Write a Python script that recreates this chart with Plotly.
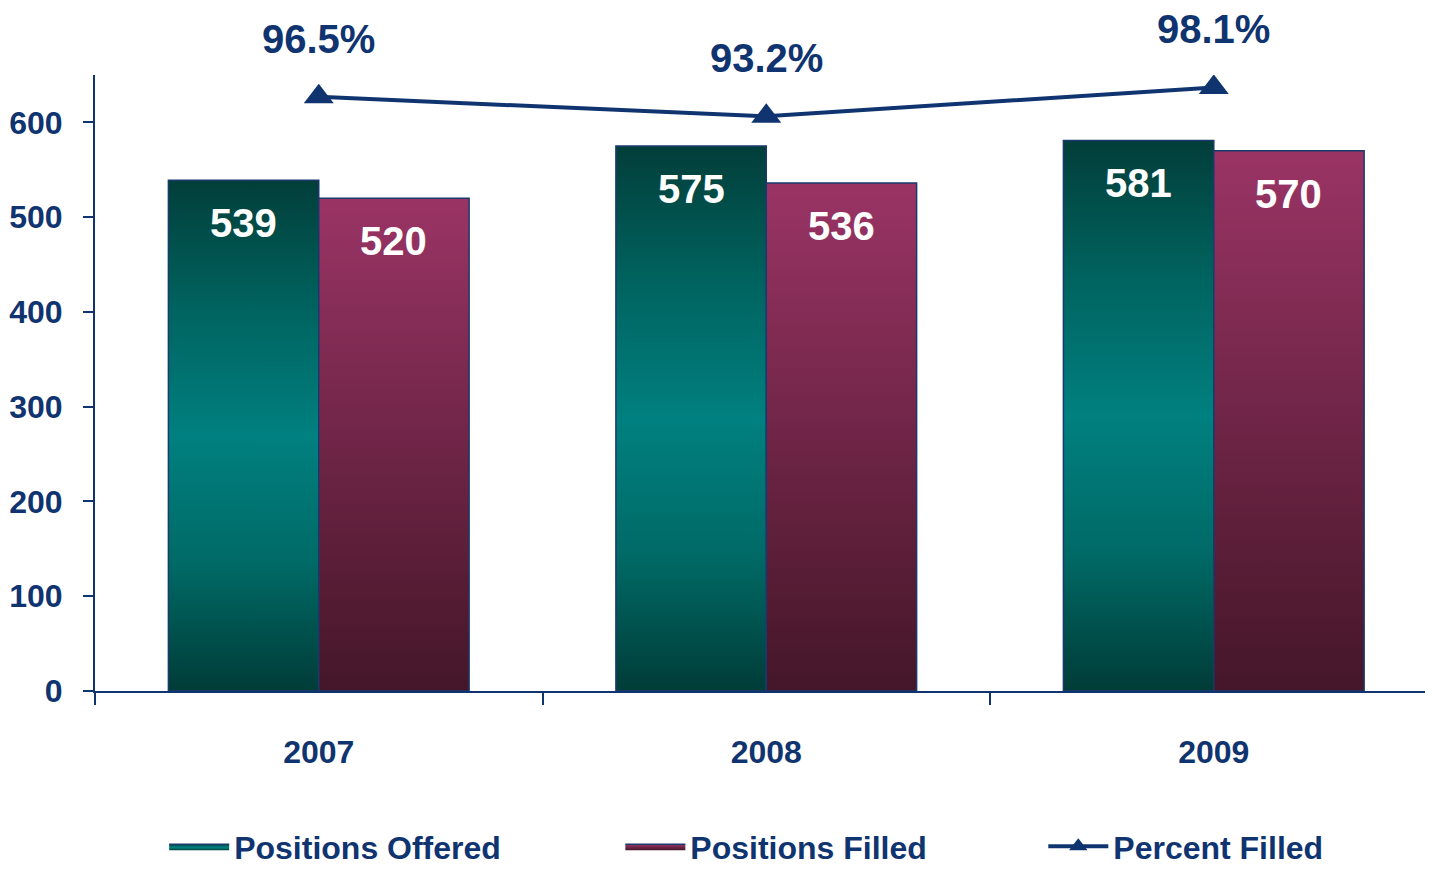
import plotly.graph_objects as go

years = ["2007", "2008", "2009"]
offered = [539, 575, 581]
filled = [520, 536, 570]
pct_filled = [96.5, 93.2, 98.1]

NAVY = "#0f3470"
FONT = "Liberation Sans, Arial, sans-serif"
BAR_W = 0.336

teal_scale = [[0, "#003c38"], [0.25, "#006a66"], [0.5, "#008080"],
              [0.75, "#00635f"], [1, "#023e3a"]]
maroon_scale = [[0, "#441628"], [1, "#9a3465"]]


def bold(size, color=NAVY):
    return dict(family=FONT, size=size, color=color, weight="bold")


fig = go.Figure()


def add_bars(values, offset, scale, name, legend):
    for i, v in enumerate(values):
        x0 = i + offset
        x1 = x0 + BAR_W
        fig.add_trace(go.Scatter(
            x=[x0, x1, x1, x0, x0], y=[0, 0, v, v, 0],
            mode="lines", fill="toself",
            line=dict(color="#1a3a6e", width=1.5),
            fillgradient=dict(type="vertical", colorscale=scale),
            name=name, legendgroup=name, showlegend=(i == 0), legend=legend,
            hoverinfo="skip",
        ))
        fig.add_annotation(x=x0 + BAR_W / 2, y=v, yshift=-43, text=str(v),
                           showarrow=False, font=bold(40, "white"))


add_bars(offered, -BAR_W, teal_scale, "Positions Offered", "legend")
add_bars(filled, 0, maroon_scale, "Positions Filled", "legend2")

fig.add_trace(go.Scatter(
    x=list(range(len(years))), y=pct_filled, yaxis="y2",
    mode="lines+markers", name="Percent Filled", legend="legend3",
    line=dict(color=NAVY, width=4),
    marker=dict(symbol="triangle-up", size=26, color=NAVY),
))
for i, p in enumerate(pct_filled):
    fig.add_annotation(x=i, y=p, yref="y2", yshift=58, text=f"{p}%",
                       showarrow=False, font=bold(40))

leg = dict(orientation="h", xanchor="left", y=-0.297, yanchor="bottom",
           font=bold(32), itemwidth=60, bgcolor="rgba(0,0,0,0)")

fig.update_layout(
    width=1417, height=867,
    margin=dict(l=87, r=0, t=67, b=184),
    plot_bgcolor="white", paper_bgcolor="white",
    font=dict(family=FONT, color=NAVY),
    xaxis=dict(
        range=[-0.5, 2.472], tickvals=list(range(len(years))), ticktext=years,
        ticks="", showline=True, linecolor=NAVY, linewidth=2,
        showgrid=False, zeroline=False, automargin=False,
        tickfont=bold(32),
        ticklabelstandoff=32,
        minor=dict(tick0=0.5, dtick=1, ticks="outside", ticklen=12,
                   tickcolor=NAVY, tickwidth=2, showgrid=False),
    ),
    yaxis=dict(
        range=[0, 650], tickvals=[0, 100, 200, 300, 400, 500, 600],
        ticks="outside", ticklen=10, tickcolor=NAVY, tickwidth=2,
        showline=True, linecolor=NAVY, linewidth=2,
        showgrid=False, zeroline=False, automargin=False,
        tickfont=bold(32),
        ticklabelstandoff=14,
    ),
    yaxis2=dict(range=[-4.2, 100.2], overlaying="y", visible=False),
    legend=dict(leg, x=0.052),
    legend2=dict(leg, x=0.395),
    legend3=dict(leg, x=0.713),
)

fig.write_html("out.html")
